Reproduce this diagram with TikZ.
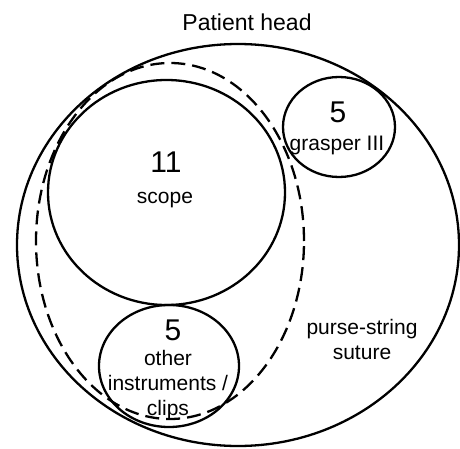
\documentclass[tikz,border=0pt]{standalone}
\usepackage{fontspec}
\setmainfont{Liberation Sans}
\usetikzlibrary{shapes.geometric}

\begin{document}
\begin{tikzpicture}[x=1pt,y=1pt]
  \path[use as bounding box] (0,0) rectangle (460,448);

  \tikzset{
    vennSet/.style={
      draw=black,
      ellipse,
      line width=2.3pt,
      inner sep=0pt
    },
    vennDashed/.style={
      vennSet,
      dash pattern=on 14pt off 7pt
    },
    vennCount/.style={
      font=\fontsize{30}{30}\selectfont,
      inner sep=0pt
    },
    vennText/.style={
      font=\fontsize{21}{25}\selectfont,
      align=center,
      inner sep=0pt
    }
  }

  \node[font=\fontsize{23}{23}\selectfont] (head) at (247,426) {Patient head};

  \node[vennSet,minimum width=442pt,minimum height=402pt] (suture) at (238,203) {};
  \node[vennDashed,minimum width=268pt,minimum height=356pt] (region) at (170,207) {};
  \node[vennSet,minimum width=237pt,minimum height=225pt] (scope) at (166.5,255.5) {};
  \node[vennSet,minimum width=112pt,minimum height=100pt] (grasper) at (339,321) {};
  \node[vennSet,minimum width=140pt,minimum height=122pt] (other) at (169,82) {};

  \node[vennCount] (scopeN) at (166,286) {11};
  \node[vennText] (scopeT) at (165,248) {scope};
  \node[vennCount] (grasperN) at (338,336) {5};
  \node[vennText] (grasperT) at (337,303) {grasper III};
  \node[vennCount] (otherN) at (173,118) {5};
  \node[vennText] (otherT) at (168,63) {other\\instruments /\\clips};
  \node[vennText] (sutureT) at (362,109) {purse-string\\suture};
\end{tikzpicture}
\end{document}
